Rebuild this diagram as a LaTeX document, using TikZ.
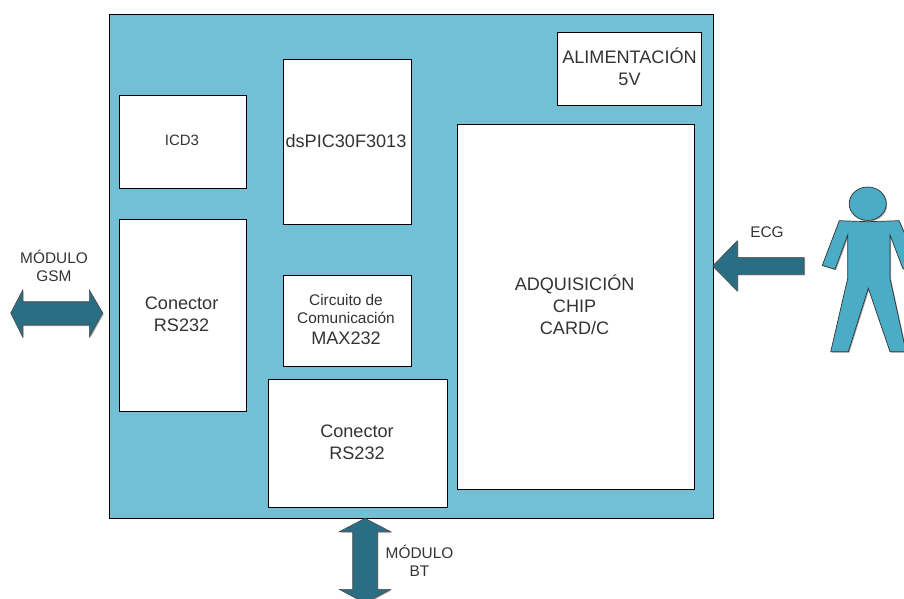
\documentclass[tikz,border=0pt]{standalone}
\usepackage{fontspec}
\setmainfont{Liberation Sans}
\usetikzlibrary{shadows}
\definecolor{panel}{HTML}{72BFD6}
\definecolor{arrowfill}{HTML}{2A6E84}
\definecolor{personfill}{HTML}{4BACC6}
\definecolor{ink}{HTML}{333333}
\newcommand{\bigtxt}{\fontsize{18.1}{21.7}\selectfont}
\newcommand{\smalltxt}{\fontsize{15.4}{18}\selectfont}
\tikzset{
  softshadow/.style={general shadow={shadow xshift=1pt,shadow yshift=-1pt,fill=black,opacity=.35}},
  whitebox/.style={draw=black,line width=.8pt,fill=white,softshadow},
  boxlabel/.style={text=ink,align=center,inner sep=0pt,font=\bigtxt},
  smalllabel/.style={text=ink,align=center,inner sep=0pt,font=\smalltxt},
  blockarrow/.style={draw=black!70,line width=.6pt,fill=arrowfill,softshadow},
  personshape/.style={draw=black!80,line width=.7pt,fill=personfill,softshadow}
}
\begin{document}
\begin{tikzpicture}[x=1pt,y=-1pt]
\useasboundingbox (0,0) rectangle (904,599);
\clip (0,0) rectangle (904,599);
% main panel
\draw[draw=black,line width=.8pt,fill=panel] (109,14) rectangle (713,518);
% boxes
\draw[whitebox] (557,32) rectangle (701,105);
\node[boxlabel] (alim) at (629.5,67) {ALIMENTACIÓN\\5V};
\draw[whitebox] (283,59) rectangle (411,224);
\node[boxlabel] (dspic) at (346,140.6) {dsPIC30F3013};
\draw[whitebox] (119,95) rectangle (246,188);
\node[smalllabel,font=\fontsize{15}{18}\selectfont] (icd) at (182,140.6) {ICD3};
\draw[whitebox] (119,219) rectangle (246,411);
\node[boxlabel] (con1) at (181.6,314.5) {Conector\\RS232};
\draw[whitebox] (283,275) rectangle (411,366);
\node[smalllabel] (max) at (346,320) {Circuito de\\Comunicación\\[3pt]{\bigtxt MAX232}};
\draw[whitebox] (268,379) rectangle (447,507);
\node[boxlabel] (con2) at (357,442.5) {Conector\\RS232};
\draw[whitebox] (457,124) rectangle (694,489);
\node[boxlabel] (adq) at (574.6,304.8) {ADQUISICIÓN\\CHIP\\CARD/C};
% GSM arrow
\draw[blockarrow] (10.7,313) -- (22.7,290) -- (22.7,301.7) -- (89.3,301.7) -- (89.3,290) -- (102.7,313)
  -- (89.3,337) -- (89.3,325) -- (22.7,325) -- (22.7,337) -- cycle;
\node[smalllabel] (gsm) at (54,266) {MÓDULO\\GSM};
% BT arrow
\draw[blockarrow] (365,518.3) -- (390.7,531.7) -- (377.3,531.7) -- (377.3,589.3) -- (390.7,589.3) -- (365,603)
  -- (339.3,589.3) -- (352.7,589.3) -- (352.7,531.7) -- (339.3,531.7) -- cycle;
\node[smalllabel] (bt) at (419.5,560.5) {MÓDULO\\BT};
% ECG arrow
\draw[blockarrow] (712.7,266) -- (737.3,240.7) -- (737.3,257.3) -- (804,257.3) -- (804,274.3) -- (737.3,274.3) -- (737.3,291) -- cycle;
\node[smalllabel] (ecg) at (767,232) {ECG};
% person
\draw[personshape] (839.3,220.7) -- (867.7,221.7) -- (899,220.7) -- (918,264) -- (903,269) -- (890,235) -- (890,278.3)
  -- (906,351.7) -- (890,351.7) -- (868.3,288.3) -- (848.3,351.7) -- (830.7,351.7) -- (847.7,278.3) -- (847.7,235)
  -- (835,269.3) -- (822.3,265.3) -- cycle;
\draw[personshape] (867.7,203.7) ellipse [x radius=18.5,y radius=16.7];
\end{tikzpicture}
\end{document}
